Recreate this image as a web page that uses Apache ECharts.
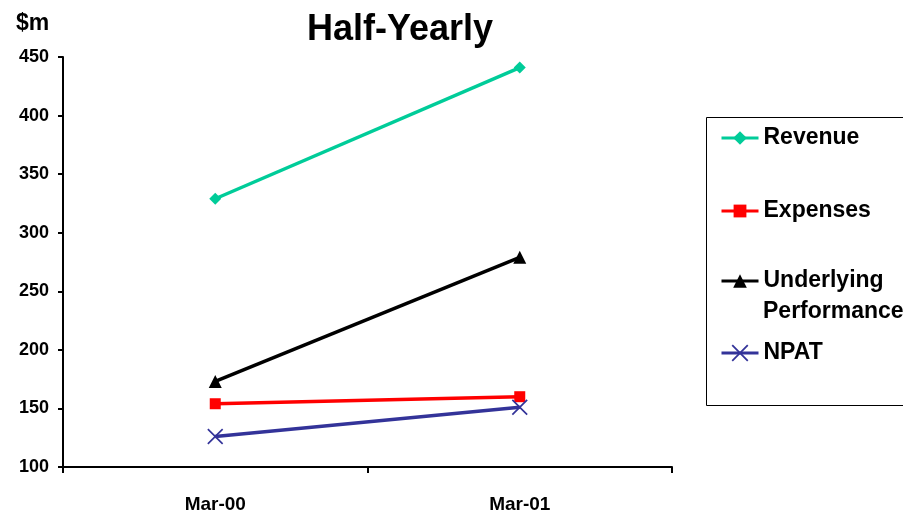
<!DOCTYPE html>
<html>
<head>
<meta charset="utf-8">
<script src="https://cdn.jsdelivr.net/npm/echarts@6/dist/echarts.min.js"></script>
<style>html,body{margin:0;padding:0;background:#fff;}#c{width:903px;height:516px;}</style>
</head>
<body>
<div id="c"></div>
<script>
const categories = ['Mar-00', 'Mar-01'];
const revenue = [329, 441];
const expenses = [154, 160];
const underlying = [173, 279];
const npat = [126, 151];
const yTicks = [100, 150, 200, 250, 300, 350, 400, 450];

const FONT = '"Liberation Sans", Arial, sans-serif';
const xPath = 'path://M0,1.5L1.5,0L10,8.5L18.5,0L20,1.5L11.5,10L20,18.5L18.5,20L10,11.5L1.5,20L0,18.5L8.5,10Z';

const chart = echarts.init(document.getElementById('c'), null, {renderer: 'canvas'});

function legendFor(name, top, iconH, label) {
  return {
    data: [name],
    orient: 'vertical',
    left: 720,
    top: top,
    padding: 0,
    itemWidth: 37,
    itemHeight: iconH,
    itemGap: 0,
    selectedMode: false,
    lineStyle: {width: 3},
    formatter: label ? function () { return label; } : undefined,
    textStyle: {fontFamily: FONT, fontWeight: 'bold', fontSize: 23, color: '#000', lineHeight: 24}
  };
}

const option = {
  animation: false,
  backgroundColor: '#fff',
  title: {
    text: 'Half-Yearly',
    left: 302,
    top: 7,
    textStyle: {fontFamily: FONT, fontWeight: 'bold', fontSize: 36, color: '#000'}
  },
  legend: [
    legendFor('Revenue', 126, 17),
    legendFor('Expenses', 199, 16),
    legendFor('Underlying Performance', 269, 17, 'Underlying'),
    legendFor('NPAT', 341, 21)
  ],
  graphic: [
    {type: 'rect', shape: {x: 706.5, y: 117.5, width: 260, height: 288},
     style: {fill: 'none', stroke: '#000', lineWidth: 1}, z: -1},
    {type: 'text', left: 763, top: 300,
     style: {text: 'Performance', font: 'bold 23px ' + FONT, fill: '#000'}},
    {type: 'text', left: 16, top: 12,
     style: {text: '$m', font: 'bold 23px ' + FONT, fill: '#000'}}
  ],
  grid: {left: 63, right: 231, top: 57, bottom: 49, containLabel: false},
  xAxis: {
    type: 'category',
    data: categories,
    boundaryGap: true,
    axisLine: {lineStyle: {color: '#000', width: 2}},
    axisTick: {show: true, length: 6, lineStyle: {color: '#000', width: 2}},
    axisLabel: {fontFamily: FONT, fontWeight: 'bold', fontSize: 19, color: '#000', margin: 28},
    splitLine: {show: false}
  },
  yAxis: {
    type: 'value',
    min: 100,
    max: 450,
    interval: 50,
    axisLine: {show: true, lineStyle: {color: '#000', width: 2}},
    axisTick: {show: true, length: 5, lineStyle: {color: '#000', width: 2}},
    axisLabel: {fontFamily: FONT, fontWeight: 'bold', fontSize: 18, color: '#000', margin: 14,
      formatter: function (v) { return yTicks.indexOf(v) >= 0 ? String(v) : ''; }},
    splitLine: {show: false}
  },
  series: [
    {name: 'Revenue', type: 'line', data: revenue, symbol: 'diamond', symbolSize: 12,
     lineStyle: {color: '#00CC99', width: 3.5}, itemStyle: {color: '#00CC99'}},
    {name: 'Expenses', type: 'line', data: expenses, symbol: 'rect', symbolSize: 11,
     lineStyle: {color: '#FF0000', width: 3.5}, itemStyle: {color: '#FF0000'}},
    {name: 'Underlying Performance', type: 'line', data: underlying, symbol: 'triangle', symbolSize: 13,
     lineStyle: {color: '#000000', width: 3.5}, itemStyle: {color: '#000000'}},
    {name: 'NPAT', type: 'line', data: npat, symbol: xPath, symbolSize: 16,
     lineStyle: {color: '#333399', width: 3.5}, itemStyle: {color: '#333399'}}
  ]
};
chart.setOption(option);
</script>
</body>
</html>
